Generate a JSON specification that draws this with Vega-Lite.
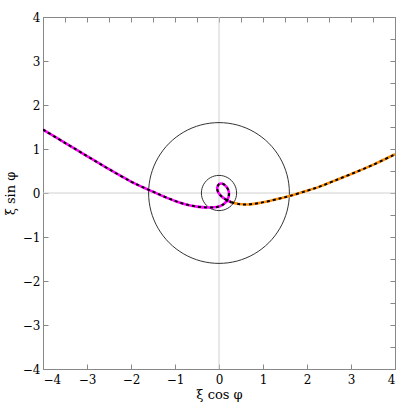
{
  "$schema": "https://vega.github.io/schema/vega-lite/v6.json",
  "width": 352,
  "height": 352,
  "autosize": {"type": "none"},
  "padding": {"left": 43, "top": 17, "right": 4, "bottom": 43},
  "background": "white",
  "config": {
    "view": {"stroke": "#888", "strokeWidth": 1},
    "axis": {
      "grid": false,
      "domainColor": "#888",
      "tickColor": "#888",
      "tickSize": -5,
      "labelFont": "DejaVu Serif",
      "labelFontSize": 12,
      "labelColor": "black",
      "titleFont": "DejaVu Serif",
      "titleFontSize": 13,
      "titleFontWeight": "normal",
      "titleColor": "black"
    }
  },
  "datasets": {
    "zero": [{"v": 0}],
    "rings": [
      {"ring": "big", "i": 0, "x": 1.6, "y": 0},
      {"ring": "big", "i": 1, "x": 1.5455, "y": 0.4141},
      {"ring": "big", "i": 2, "x": 1.3856, "y": 0.8},
      {"ring": "big", "i": 3, "x": 1.1314, "y": 1.1314},
      {"ring": "big", "i": 4, "x": 0.8, "y": 1.3856},
      {"ring": "big", "i": 5, "x": 0.4141, "y": 1.5455},
      {"ring": "big", "i": 6, "x": 0, "y": 1.6},
      {"ring": "big", "i": 7, "x": -0.4141, "y": 1.5455},
      {"ring": "big", "i": 8, "x": -0.8, "y": 1.3856},
      {"ring": "big", "i": 9, "x": -1.1314, "y": 1.1314},
      {"ring": "big", "i": 10, "x": -1.3856, "y": 0.8},
      {"ring": "big", "i": 11, "x": -1.5455, "y": 0.4141},
      {"ring": "big", "i": 12, "x": -1.6, "y": 0},
      {"ring": "big", "i": 13, "x": -1.5455, "y": -0.4141},
      {"ring": "big", "i": 14, "x": -1.3856, "y": -0.8},
      {"ring": "big", "i": 15, "x": -1.1314, "y": -1.1314},
      {"ring": "big", "i": 16, "x": -0.8, "y": -1.3856},
      {"ring": "big", "i": 17, "x": -0.4141, "y": -1.5455},
      {"ring": "big", "i": 18, "x": 0, "y": -1.6},
      {"ring": "big", "i": 19, "x": 0.4141, "y": -1.5455},
      {"ring": "big", "i": 20, "x": 0.8, "y": -1.3856},
      {"ring": "big", "i": 21, "x": 1.1314, "y": -1.1314},
      {"ring": "big", "i": 22, "x": 1.3856, "y": -0.8},
      {"ring": "big", "i": 23, "x": 1.5455, "y": -0.4141},
      {"ring": "small", "i": 0, "x": 0.4, "y": 0},
      {"ring": "small", "i": 1, "x": 0.3864, "y": 0.1035},
      {"ring": "small", "i": 2, "x": 0.3464, "y": 0.2},
      {"ring": "small", "i": 3, "x": 0.2828, "y": 0.2828},
      {"ring": "small", "i": 4, "x": 0.2, "y": 0.3464},
      {"ring": "small", "i": 5, "x": 0.1035, "y": 0.3864},
      {"ring": "small", "i": 6, "x": 0, "y": 0.4},
      {"ring": "small", "i": 7, "x": -0.1035, "y": 0.3864},
      {"ring": "small", "i": 8, "x": -0.2, "y": 0.3464},
      {"ring": "small", "i": 9, "x": -0.2828, "y": 0.2828},
      {"ring": "small", "i": 10, "x": -0.3464, "y": 0.2},
      {"ring": "small", "i": 11, "x": -0.3864, "y": 0.1035},
      {"ring": "small", "i": 12, "x": -0.4, "y": 0},
      {"ring": "small", "i": 13, "x": -0.3864, "y": -0.1035},
      {"ring": "small", "i": 14, "x": -0.3464, "y": -0.2},
      {"ring": "small", "i": 15, "x": -0.2828, "y": -0.2828},
      {"ring": "small", "i": 16, "x": -0.2, "y": -0.3464},
      {"ring": "small", "i": 17, "x": -0.1035, "y": -0.3864},
      {"ring": "small", "i": 18, "x": 0, "y": -0.4},
      {"ring": "small", "i": 19, "x": 0.1035, "y": -0.3864},
      {"ring": "small", "i": 20, "x": 0.2, "y": -0.3464},
      {"ring": "small", "i": 21, "x": 0.2828, "y": -0.2828},
      {"ring": "small", "i": 22, "x": 0.3464, "y": -0.2},
      {"ring": "small", "i": 23, "x": 0.3864, "y": -0.1035}
    ],
    "curve": [
      {"part": "a", "i": 0, "x": -4.0, "y": 1.44},
      {"part": "a", "i": 1, "x": -3.5, "y": 1.14},
      {"part": "a", "i": 2, "x": -3.0, "y": 0.84},
      {"part": "a", "i": 3, "x": -2.5, "y": 0.54},
      {"part": "a", "i": 4, "x": -2.0, "y": 0.26},
      {"part": "a", "i": 5, "x": -1.75, "y": 0.14},
      {"part": "a", "i": 6, "x": -1.5, "y": 0.03},
      {"part": "a", "i": 7, "x": -1.25, "y": -0.08},
      {"part": "a", "i": 8, "x": -1.0, "y": -0.18},
      {"part": "a", "i": 9, "x": -0.75, "y": -0.26},
      {"part": "a", "i": 10, "x": -0.5, "y": -0.31},
      {"part": "a", "i": 11, "x": -0.25, "y": -0.33},
      {"part": "a", "i": 12, "x": -0.05, "y": -0.32},
      {"part": "a", "i": 13, "x": 0.08, "y": -0.27},
      {"part": "a", "i": 14, "x": 0.17, "y": -0.19},
      {"part": "a", "i": 15, "x": 0.22, "y": -0.08},
      {"part": "a", "i": 16, "x": 0.22, "y": 0.04},
      {"part": "a", "i": 17, "x": 0.17, "y": 0.14},
      {"part": "a", "i": 18, "x": 0.08, "y": 0.21},
      {"part": "a", "i": 19, "x": 0.0, "y": 0.2},
      {"part": "a", "i": 20, "x": -0.04, "y": 0.12},
      {"part": "a", "i": 21, "x": -0.02, "y": 0.02},
      {"part": "a", "i": 22, "x": 0.06, "y": -0.08},
      {"part": "a", "i": 23, "x": 0.16, "y": -0.15},
      {"part": "a", "i": 24, "x": 0.28, "y": -0.21},
      {"part": "b", "i": 24, "x": 0.28, "y": -0.21},
      {"part": "b", "i": 25, "x": 0.45, "y": -0.25},
      {"part": "b", "i": 26, "x": 0.65, "y": -0.26},
      {"part": "b", "i": 27, "x": 0.9, "y": -0.23},
      {"part": "b", "i": 28, "x": 1.15, "y": -0.18},
      {"part": "b", "i": 29, "x": 1.4, "y": -0.12},
      {"part": "b", "i": 30, "x": 1.6, "y": -0.07},
      {"part": "b", "i": 31, "x": 2.0, "y": 0.05},
      {"part": "b", "i": 32, "x": 2.3, "y": 0.15},
      {"part": "b", "i": 33, "x": 2.6, "y": 0.27},
      {"part": "b", "i": 34, "x": 3.0, "y": 0.43},
      {"part": "b", "i": 35, "x": 3.5, "y": 0.64},
      {"part": "b", "i": 36, "x": 4.0, "y": 0.88}
    ]
  },
  "resolve": {"axis": {"x": "independent", "y": "independent"}},
  "layer": [
    {
      "data": {"name": "zero"},
      "mark": {"type": "rule", "color": "#d0d0d0", "strokeWidth": 1},
      "encoding": {
        "x": {
          "field": "v", "type": "quantitative",
          "scale": {"domain": [-4, 4], "nice": false, "zero": false},
          "axis": {
            "orient": "bottom",
            "title": "ξ cos φ",
            "format": "d",
            "values": [-4, -3.5, -3, -2.5, -2, -1.5, -1, -0.5, 0, 0.5, 1, 1.5, 2, 2.5, 3, 3.5, 4],
            "labelExpr": "datum.value % 1 === 0 ? datum.label : ''",
            "labelPadding": 10,
            "titlePadding": 3
          }
        }
      }
    },
    {
      "data": {"name": "zero"},
      "mark": {"type": "rule", "color": "#d0d0d0", "strokeWidth": 1},
      "encoding": {
        "y": {
          "field": "v", "type": "quantitative",
          "scale": {"domain": [-4, 4], "nice": false, "zero": false},
          "axis": {
            "orient": "left",
            "title": "ξ sin φ",
            "format": "d",
            "values": [-4, -3.5, -3, -2.5, -2, -1.5, -1, -0.5, 0, 0.5, 1, 1.5, 2, 2.5, 3, 3.5, 4],
            "labelExpr": "datum.value % 1 === 0 ? datum.label : ''",
            "labelPadding": 8,
            "titlePadding": 5
          }
        }
      }
    },
    {
      "data": {"name": "rings"},
      "mark": {"type": "line", "color": "#333333", "strokeWidth": 1, "interpolate": "cardinal-closed"},
      "encoding": {
        "x": {
          "field": "x", "type": "quantitative",
          "scale": {"domain": [-4, 4], "nice": false, "zero": false},
          "axis": {
            "orient": "top", "title": null, "labels": false,
            "values": [-4, -3.5, -3, -2.5, -2, -1.5, -1, -0.5, 0, 0.5, 1, 1.5, 2, 2.5, 3, 3.5, 4]
          }
        },
        "y": {
          "field": "y", "type": "quantitative",
          "scale": {"domain": [-4, 4], "nice": false, "zero": false},
          "axis": {
            "orient": "right", "title": null, "labels": false,
            "values": [-4, -3.5, -3, -2.5, -2, -1.5, -1, -0.5, 0, 0.5, 1, 1.5, 2, 2.5, 3, 3.5, 4]
          }
        },
        "detail": {"field": "ring", "type": "nominal"},
        "order": {"field": "i", "type": "quantitative"}
      }
    },
    {
      "data": {"name": "curve"},
      "mark": {"type": "line", "strokeWidth": 2.6, "interpolate": "catmull-rom", "clip": true},
      "encoding": {
        "x": {"field": "x", "type": "quantitative", "axis": null},
        "y": {"field": "y", "type": "quantitative", "axis": null},
        "color": {
          "field": "part", "type": "nominal",
          "scale": {"domain": ["a", "b"], "range": ["#ff00ff", "#ff8c00"]},
          "legend": null
        },
        "order": {"field": "i", "type": "quantitative"}
      }
    },
    {
      "data": {"name": "curve"},
      "mark": {"type": "line", "strokeWidth": 2, "color": "black", "strokeDash": [3, 3], "interpolate": "catmull-rom", "clip": true},
      "encoding": {
        "x": {"field": "x", "type": "quantitative", "axis": null},
        "y": {"field": "y", "type": "quantitative", "axis": null},
        "detail": {"field": "part", "type": "nominal"},
        "order": {"field": "i", "type": "quantitative"}
      }
    }
  ]
}
